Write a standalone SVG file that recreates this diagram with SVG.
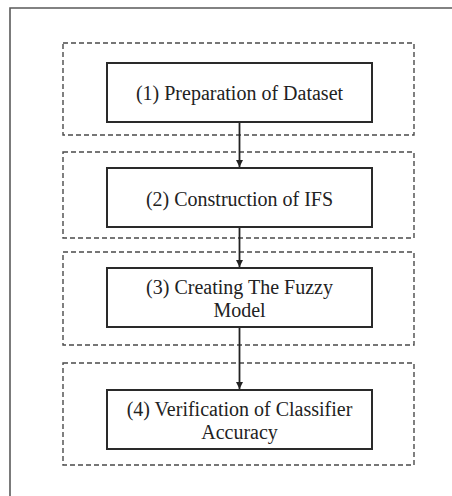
<svg xmlns="http://www.w3.org/2000/svg" width="452" height="496" viewBox="0 0 452 496">
<defs>
<style>
.frame{fill:none;stroke:#5a5a5a;stroke-width:1.6}
.group{fill:none;stroke:#4a4a4a;stroke-width:1.4;stroke-dasharray:5 3}
.box{fill:#ffffff;stroke:#2a2a2a;stroke-width:2}
.lbl{font-family:"Liberation Serif","Times New Roman",serif;font-size:20px;fill:#222;text-anchor:middle}
.conn{fill:none;stroke:#222;stroke-width:1.8}
</style>
<marker id="arr" viewBox="0 0 10 10" refX="10" refY="5" markerWidth="4" markerHeight="4" orient="auto" markerUnits="strokeWidth">
<path d="M0,0 L10,5 L0,10 z" fill="#222"/>
</marker>
</defs>
<rect width="452" height="496" fill="#ffffff"/>
<path class="frame" d="M10,496 L10,8 L452,8"/>
<g id="group1"><rect class="group" x="63" y="43" width="351" height="92"/></g>
<g id="group2"><rect class="group" x="63" y="152" width="351" height="86"/></g>
<g id="group3"><rect class="group" x="63" y="252" width="351" height="93"/></g>
<g id="group4"><rect class="group" x="63" y="363" width="351" height="102"/></g>
<g id="node1"><rect class="box" x="107" y="63" width="265" height="59"/><text class="lbl" x="239.5" y="100">(1) Preparation of Dataset</text></g>
<g id="node2"><rect class="box" x="107" y="168" width="265" height="59"/><text class="lbl" x="239.5" y="206">(2) Construction of IFS</text></g>
<g id="node3"><rect class="box" x="107" y="268" width="265" height="59"/><text class="lbl" x="239.5" y="294">(3) Creating The Fuzzy</text><text class="lbl" x="239.5" y="317">Model</text></g>
<g id="node4"><rect class="box" x="107" y="390" width="265" height="59"/><text class="lbl" x="239.5" y="416">(4) Verification of Classifier</text><text class="lbl" x="239.5" y="439">Accuracy</text></g>
<g id="connectors">
<line class="conn" x1="239.5" y1="123" x2="239.5" y2="167" marker-end="url(#arr)"/>
<line class="conn" x1="239.5" y1="228" x2="239.5" y2="267" marker-end="url(#arr)"/>
<line class="conn" x1="239.5" y1="328" x2="239.5" y2="389" marker-end="url(#arr)"/>
</g>
</svg>
